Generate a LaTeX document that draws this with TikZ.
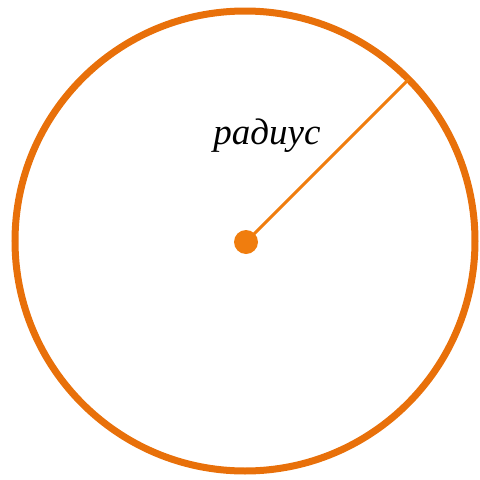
\documentclass[tikz,border=0pt]{standalone}
\usepackage{fontspec}
\setmainfont{Liberation Serif}
\definecolor{ringc}{HTML}{E8700A}
\definecolor{radc}{HTML}{F07D0E}
\begin{document}
\begin{tikzpicture}[x=1pt,y=-1pt,
  ring/.style={draw=ringc,line width=7pt},
  radline/.style={draw=radc,line width=3pt},
  lbl/.style={font=\fontsize{37}{42}\selectfont\itshape,inner sep=0pt,anchor=base}]
\useasboundingbox (0,0) rectangle (480,480);
\coordinate (c) at (245,241);
\draw[ring] (c) circle (230);
\coordinate (e) at (409,79);
\fill[radc] (246,242) circle (12);
\node (dot) at (246,242) {};
\draw[radline] (dot.center) -- (e);
\node[lbl] (t) at (267,144) {радиус};
\end{tikzpicture}
\end{document}
